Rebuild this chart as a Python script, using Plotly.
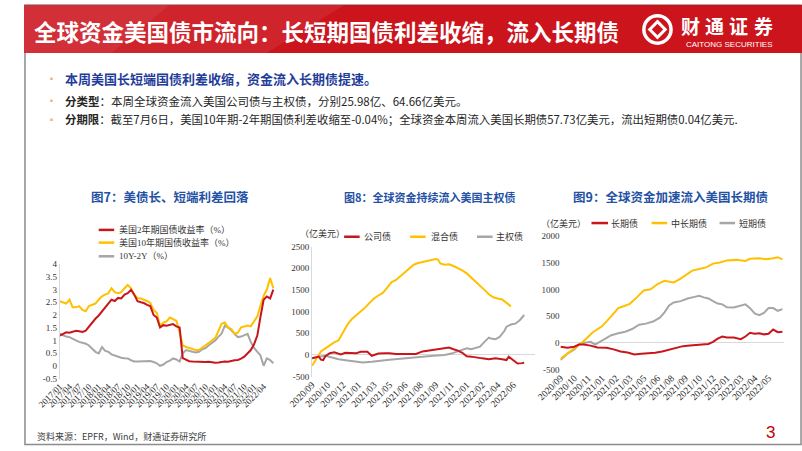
import plotly.graph_objects as go
import pandas as pd

W, H = 802, 451
RED = "#c8161d"
YEL = "#ffc000"
GRY = "#a6a6a6"
SERIF = "Liberation Serif, Noto Sans CJK SC"
CJK = "Noto Sans CJK SC"

# ---- 图7: monthly yields 2017/01 - 2022/07 ----
months7 = pd.date_range("2017-01-01", "2022-07-01", freq="MS")
us2y = [1.19, 1.25, 1.32, 1.30, 1.35, 1.38, 1.36, 1.33, 1.38, 1.55, 1.70, 1.85,
        1.98, 2.15, 2.30, 2.45, 2.60, 2.55, 2.67, 2.65, 2.80, 2.86, 2.99, 2.80,
        2.54, 2.50, 2.47, 2.40, 2.35, 2.00, 1.90, 1.51, 1.60, 1.58, 1.60, 1.64,
        1.55, 1.51, 0.30, 0.23, 0.18, 0.17, 0.16, 0.15, 0.14, 0.15, 0.16, 0.13,
        0.12, 0.13, 0.15, 0.17, 0.16, 0.20, 0.22, 0.23, 0.28, 0.36, 0.50, 0.62,
        0.85, 1.20, 1.90, 2.60, 2.73, 2.65, 3.00]
us10y = [2.54, 2.50, 2.45, 2.60, 2.30, 2.30, 2.35, 2.20, 2.15, 2.35, 2.40, 2.45,
         2.60, 2.73, 2.80, 2.85, 3.05, 2.90, 2.86, 2.90, 3.05, 3.18, 3.05, 2.80,
         2.67, 2.65, 2.60, 2.55, 2.47, 2.20, 2.09, 1.58, 1.70, 1.75, 1.90, 1.85,
         1.77, 1.32, 0.80, 0.74, 0.70, 0.68, 0.62, 0.62, 0.70, 0.81, 0.90, 1.00,
         1.10, 1.38, 1.65, 1.70, 1.51, 1.45, 1.26, 1.30, 1.51, 1.55, 1.58, 1.55,
         1.75, 1.95, 2.35, 2.75, 3.00, 3.45, 3.05]
spread = [1.26, 1.20, 1.15, 1.13, 1.05, 1.00, 0.94, 0.90, 0.87, 0.80, 0.68, 0.55,
          0.49, 0.74, 0.60, 0.55, 0.45, 0.40, 0.36, 0.32, 0.30, 0.29, 0.22, 0.17,
          0.17, 0.17, 0.17, 0.18, 0.19, 0.15, 0.10, 0.00, 0.05, 0.15, 0.20, 0.29,
          0.25, 0.17, 0.49, 0.62, 0.60, 0.55, 0.52, 0.55, 0.65, 0.70, 0.81, 0.90,
          1.00, 1.15, 1.26, 1.58, 1.51, 1.40, 1.25, 1.13, 1.15, 1.19, 1.26, 0.94,
          0.70, 0.55, 0.42, 0.00, 0.29, 0.23, 0.10]
y7_ticks = ["-0.5", "0", "0.5", "1", "1.5", "2", "2.5", "3", "3.5", "4"]
x7_ticks = pd.date_range("2017-01-01", "2022-04-01", freq="3MS")

# ---- 图8: weekly cumulative flows (week 0 = 2020/09/02) ----
wk_corp = [0, 2, 3, 4, 5, 6, 8, 10, 12, 13, 15, 17, 20, 22, 25, 27, 30, 33, 35, 38, 40, 43, 45,
           47, 50, 53, 55, 58, 60, 62, 64, 66, 68, 70, 72, 74, 77, 80, 83, 86, 88, 89, 91, 93, 95, 96]
corp = [-80, -60, -40, -110, -120, -30, 40, 60, 30, 10, 50, 40, 40, 70, 70, -20, 30, 40, 40, 20, 20, 10, 10,
        20, 80, 100, 110, 130, 150, 170, 130, 100, 50, -30, -40, -60, -80, -100, -80, -100, -120, -40, -120, -200, -190, -180]
wk_mix = [0, 2, 4, 6, 8, 10, 12, 14, 16, 18, 20, 22, 24, 26, 28, 30, 32, 34, 36, 38, 40, 42, 44, 46,
          48, 50, 52, 54, 56, 57, 58, 60, 62, 64, 66, 68, 70, 72, 74, 76, 78, 80, 82, 84, 86, 88, 90]
mixed = [-250, -100, 80, 150, 230, 290, 340, 530, 700, 830, 920, 990, 1090, 1200, 1300, 1370, 1430, 1550,
         1680, 1730, 1820, 1900, 2000, 2080, 2120, 2140, 2170, 2190, 2210, 2200, 2110, 2080, 2090, 2050,
         2000, 1950, 1880, 1790, 1700, 1600, 1500, 1400, 1330, 1300, 1280, 1200, 1120]
wk_sov = [0, 3, 6, 9, 12, 16, 20, 23, 27, 31, 35, 40, 45, 50, 55, 60, 63, 66, 68, 70, 72, 74, 76, 78,
          80, 81, 83, 85, 87, 88, 90, 92, 94, 96]
sovereign = [-80, -40, -20, -60, -100, -130, -160, -175, -160, -130, -110, -90, -60, -40, -20, 0, 30, 80,
             120, 150, 130, 160, 190, 300, 400, 380, 360, 420, 550, 650, 700, 720, 800, 920]
x8_ticks = ["2020/09", "2020/10", "2020/12", "2021/01", "2021/03", "2021/05", "2021/06",
            "2021/08", "2021/09", "2021/11", "2022/01", "2022/02", "2022/04", "2022/06"]

# ---- 图9: weekly cumulative flows by maturity ----
wk_long = [0, 3, 6, 8, 10, 13, 16, 20, 23, 26, 29, 32, 35, 38, 41, 44, 47, 50, 53, 56, 59, 62, 64,
           66, 68, 70, 72, 75, 78, 80, 82, 84, 86, 88, 90, 92, 94, 96]
long_b = [-70, -90, -70, -30, -30, -50, -85, -90, -120, -160, -180, -215, -200, -190, -185, -160, -130,
          -95, -60, -50, -40, -40, -20, 20, 80, 120, 100, 100, 70, 120, 190, 170, 180, 160, 170, 250, 200, 210]
wk_mid = [0, 3, 6, 8, 10, 14, 18, 22, 25, 27, 30, 33, 36, 39, 42, 45, 47, 49, 52, 55, 57, 60, 63,
          66, 69, 72, 76, 80, 82, 86, 89, 92, 94, 96]
mid_long = [-300, -200, -100, -30, 30, 200, 310, 500, 650, 680, 730, 850, 980, 1000, 1100, 1160, 1150,
            1130, 1200, 1300, 1350, 1380, 1410, 1480, 1500, 1540, 1550, 1530, 1570, 1580, 1560, 1580, 1600, 1560]
wk_short = [0, 3, 6, 8, 10, 13, 15, 18, 20, 22, 25, 28, 31, 34, 37, 40, 43, 45, 47, 49, 52, 55, 58,
            60, 62, 64, 66, 68, 70, 72, 75, 78, 80, 82, 84, 86, 88, 90, 92, 94, 96]
short_b = [-320, -200, -120, -30, 0, 20, -30, 40, 100, 145, 180, 210, 260, 340, 360, 400, 470, 570, 700,
           755, 780, 830, 860, 880, 850, 830, 780, 735, 720, 665, 660, 690, 720, 650, 550, 520, 560, 650,
           650, 600, 630]
x9_ticks = ["2020/09", "2020/10", "2020/11", "2021/01", "2021/02", "2021/03", "2021/05", "2021/06",
            "2021/08", "2021/09", "2021/10", "2021/12", "2022/01", "2022/03", "2022/04", "2022/05"]


def px(x):
    return x / W


def py(y):
    return 1 - y / H


fig = go.Figure()

# chart 7
for vals, col in [(spread, GRY), (us10y, YEL), (us2y, RED)]:
    fig.add_trace(go.Scatter(x=months7, y=vals, mode="lines", line=dict(color=col, width=2),
                             xaxis="x", yaxis="y", showlegend=False))
# chart 8
for xs, vals, col in [(wk_sov, sovereign, GRY), (wk_mix, mixed, YEL), (wk_corp, corp, RED)]:
    fig.add_trace(go.Scatter(x=xs, y=vals, mode="lines", line=dict(color=col, width=2),
                             xaxis="x2", yaxis="y2", showlegend=False))
# chart 9
for xs, vals, col in [(wk_short, short_b, GRY), (wk_mid, mid_long, YEL), (wk_long, long_b, RED)]:
    fig.add_trace(go.Scatter(x=xs, y=vals, mode="lines", line=dict(color=col, width=2),
                             xaxis="x3", yaxis="y3", showlegend=False))

tickfont = dict(family=SERIF, size=9, color="#333333")
xtick7 = dict(family=SERIF, size=9, color="#262626")
xtickfont = dict(family=SERIF, size=9.5, color="#262626")

fig.update_layout(
    width=W, height=H, margin=dict(l=0, r=0, t=0, b=0),
    paper_bgcolor="white", plot_bgcolor="white",
    xaxis=dict(domain=[px(37), px(258)], type="date", range=["2017-01-01", "2022-07-10"],
               tickvals=x7_ticks, tickformat="%Y/%m", tickangle=-45,
               showgrid=False, zeroline=False, showline=False, tickfont=xtick7, anchor="y"),
    yaxis=dict(domain=[py(382), py(265)], range=[-0.5, 4], tickvals=[-0.5 + 0.5 * i for i in range(10)],
               ticktext=y7_ticks, showgrid=False, zeroline=False, showline=True, linecolor="#d9d9d9",
               tickfont=tickfont, anchor="x"),
    xaxis2=dict(domain=[px(297), px(527)], range=[0, 101], tickvals=[7 * i for i in range(len(x8_ticks))],
                ticktext=x8_ticks, tickangle=-45, showgrid=False, zeroline=False, showline=False,
                tickfont=xtickfont, anchor="y2"),
    yaxis2=dict(domain=[py(380), py(247)], range=[-500, 2500], tickvals=list(range(-500, 2501, 500)),
                ticktext=["-500", "0", "500", "1000", "1500", "2000", "2500"],
                showgrid=False, zeroline=True, zerolinecolor="#d9d9d9", zerolinewidth=1,
                showline=True, linecolor="#d9d9d9", tickfont=tickfont, anchor="x2"),
    xaxis3=dict(domain=[px(553), px(783)], range=[0, 96.5], tickvals=[6 * i for i in range(len(x9_ticks))],
                ticktext=x9_ticks, tickangle=-45, showgrid=False, zeroline=False, showline=False,
                tickfont=xtickfont, anchor="y3"),
    yaxis3=dict(domain=[py(373), py(236)], range=[-500, 2000], tickvals=list(range(-500, 2001, 500)),
                ticktext=["-500", "0", "500", "1000", "1500", "2000"],
                showgrid=False, zeroline=True, zerolinecolor="#d9d9d9", zerolinewidth=1,
                showline=False, tickfont=tickfont, anchor="x3"),
)

shapes = []
# page border
shapes.append(dict(type="rect", xref="paper", yref="paper", x0=px(1), x1=px(801), y0=py(449.5), y1=py(0),
                   line=dict(color="#8c8c8c", width=1.5), fillcolor="rgba(0,0,0,0)", layer="below"))
# header band
shapes.append(dict(type="rect", xref="paper", yref="paper", x0=0, x1=1, y0=py(49), y1=1,
                   line=dict(width=0), fillcolor="#cc141c"))
shapes.append(dict(type="path", xref="paper", yref="paper",
                   path=f"M 0 {py(0)} L {px(330)} {py(0)} L {px(250)} {py(49)} L 0 {py(49)} Z",
                   line=dict(width=0), fillcolor="rgba(255,255,255,0.07)"))
shapes.append(dict(type="path", xref="paper", yref="paper",
                   path=f"M 0 {py(0)} L {px(150)} {py(0)} L {px(90)} {py(49)} L 0 {py(49)} Z",
                   line=dict(width=0), fillcolor="rgba(255,255,255,0.06)"))
# logo emblem
shapes.append(dict(type="circle", xref="paper", yref="paper", x0=px(639), x1=px(667), y0=py(39), y1=py(11),
                   line=dict(color="white", width=3.5), fillcolor="rgba(0,0,0,0)"))
shapes.append(dict(type="path", xref="paper", yref="paper",
                   path=f"M {px(653)} {py(17)} L {px(661)} {py(25)} L {px(653)} {py(33)} L {px(645)} {py(25)} Z",
                   line=dict(color="white", width=3), fillcolor="#cc141c"))

# legends drawn by hand
legend_lines = [
    (77, 93, 230, RED), (77, 93, 243, YEL), (77, 93, 257, GRY),
    (330, 346, 237, RED), (398, 414, 237, YEL), (467, 483, 237, GRY),
    (585, 602, 223, RED), (647, 663, 223, YEL), (717, 733, 223, GRY),
]
for x0, x1, y, col in legend_lines:
    shapes.append(dict(type="line", xref="paper", yref="paper", x0=px(x0), x1=px(x1), y0=py(y), y1=py(y),
                       line=dict(color=col, width=2.5)))
fig.update_layout(shapes=shapes)

ann = []


def text(x, y, s, size, color="#262626", family=CJK, anchor="left"):
    ann.append(dict(x=px(x), y=py(y), xref="paper", yref="paper", text=s, showarrow=False,
                    xanchor=anchor, yanchor="middle", font=dict(size=size, color=color, family=family)))


text(8, 27, "<b>全球资金美国债市流向：长短期国债利差收缩，流入长期债</b>", 22.5, "white")
for i, ch in enumerate("财通证券"):
    text(687 + 25 * i, 21, f"<b>{ch}</b>", 19, "white", anchor="center")
text(727, 40, "CAITONG SECURITIES", 8, "white", "Liberation Sans", anchor="center")

for y in [75, 98, 117]:
    text(22, y, "▪", 9, "#f4b183")
text(40, 75, "<b>本周美国长短端国债利差收缩，资金流入长期债提速。</b>", 13, "#1f3d99")
text(40, 98, "<b>分类型</b>：本周全球资金流入美国公司债与主权债，分别25.98亿、64.66亿美元。", 11.5)
text(40, 117, "<b>分期限</b>：截至7月6日，美国10年期-2年期国债利差收缩至-0.04%；"
              "全球资金本周流入美国长期债57.73亿美元，流出短期债0.04亿美元.", 11.4)

text(150, 196, "<b>图7：美债长、短端利差回落</b>", 12.5, "#2451a4", anchor="center")
text(419, 196, "<b>图8：全球资金持续流入美国主权债</b>", 11, "#2451a4", anchor="center")
text(666, 196, "<b>图9：全球资金加速流入美国长期债</b>", 12.5, "#2451a4", anchor="center")

legend_texts = [
    (96, 230, "美国2年期国债收益率（%）"), (96, 243, "美国10年期国债收益率（%）"), (96, 257, "10Y-2Y（%）"),
    (282, 234, "（亿美元）"), (348, 237, "公司债"), (417, 237, "混合债"), (485, 237, "主权债"),
    (531, 223, "（亿美元）"), (603, 223, "长期债"), (665, 223, "中长期债"), (735, 223, "短期债"),
]
for x, y, s in legend_texts:
    text(x, y, s, 9, "#333333", SERIF)

text(11, 441, "资料来源：EPFR，Wind，财通证券研究所", 9, "#404040")
text(770, 437, "3", 17, "#c00000", "Liberation Sans", anchor="center")

fig.update_layout(annotations=ann)
fig.write_html("out.html", config={"displayModeBar": False},
               post_script="document.body.style.margin='0';")
